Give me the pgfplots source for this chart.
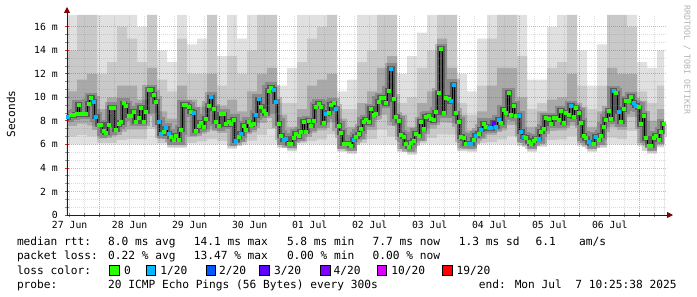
\documentclass[border=0pt]{standalone}
\usepackage{pgfplots}
\pgfplotsset{compat=1.18}
\usepackage{pgfplotstable}
\usepackage{fontspec}
\usetikzlibrary{arrows.meta}
\newfontfamily\rrd{DejaVu Sans Mono}
\newcommand\legfont{\rrd\fontsize{11.2}{13}\selectfont}
\newcommand\tickfont{\rrd\fontsize{9.8}{11}\selectfont}
\definecolor{lc0}{HTML}{26FF00}
\definecolor{lc1}{HTML}{00B8FF}
\definecolor{lc2}{HTML}{0059FF}
\definecolor{lc3}{HTML}{5E00FF}
\definecolor{lc4}{HTML}{7E00FF}
\definecolor{lc10}{HTML}{DD00FF}
\definecolor{lc19}{HTML}{FF0000}
\definecolor{sm1}{HTML}{E0E0E0}
\definecolor{sm2}{HTML}{C9C9C9}
\definecolor{sm3}{HTML}{A9A9A9}
\definecolor{mgrid}{RGB}{200,50,50}
\definecolor{ngrid}{RGB}{140,140,140}
\definecolor{arrowred}{RGB}{128,0,0}
\definecolor{axiscol}{RGB}{32,32,32}

\pgfplotstableread{
u l1 l2 l3 h3 h2 h1
0 6.00 6.66 7.56 10.5 14 17
10 6.00 6.78 7.76 11.5 17 17
20 6.00 6.68 7.60 12 17 17
30 6.00 6.10 6.51 9 12 17
40 6.00 6.11 6.68 10 13 17
50 6.00 6.36 7.08 11 16 17
60 6.00 6.48 7.28 11 15 17
70 6.00 6.48 7.28 9.8 13 16
80 6.00 7.32 8.62 12.5 17 17
90 6.00 6.10 6.46 8.8 11.5 14
100 5.69 5.79 5.95 8.2 10.5 13
110 5.69 5.79 5.95 11 15 17
120 6.00 6.10 6.64 9.8 12 14.5
130 6.00 6.26 6.92 9.2 12 15
140 6.00 6.47 7.26 12 17 17
150 6.00 6.29 6.96 9.3 11 13.5
160 5.63 5.73 5.89 9.8 13.5 17
170 5.94 6.04 6.20 8.8 12 15
180 6.00 6.33 7.03 10.5 14 17
190 6.00 6.81 7.80 12 17 17
200 6.00 7.31 8.60 12.5 17 17
210 5.69 5.79 5.95 8.5 9.5 11
220 5.40 5.50 5.66 7.5 9.5 12.5
230 6.00 6.10 6.26 9 13 17
240 6.00 6.30 6.98 11 15 17
250 6.00 6.43 7.19 11.5 16 17
260 6.00 6.85 7.87 12 17 17
270 5.35 5.45 5.61 8.2 9 10.5
280 5.18 5.28 5.44 7.5 9 11.5
290 6.00 6.10 6.40 9.5 13 17
300 6.00 6.44 7.21 10.5 14 17
310 6.00 7.25 8.51 12.5 17 17
320 6.00 6.68 7.60 13.5 17 17
330 5.35 5.45 5.61 8.5 9.5 12
340 5.12 5.22 5.38 7.5 10 13.5
350 6.00 6.10 6.30 9.5 12.5 15.5
360 6.00 6.53 7.35 10.5 14 17
370 6.00 6.85 7.87 15 17 17
380 6.00 6.83 7.83 12.5 17 17
390 5.40 5.50 5.66 8.5 9.5 12
400 5.35 5.45 5.61 7.2 8.5 10.5
410 6.00 6.10 6.46 8.8 11 15
420 6.00 6.19 6.80 11 15 17
430 6.00 6.43 7.19 12.5 17 17
440 6.00 6.71 7.64 12.5 17 17
450 5.86 5.96 6.12 10 13.5 17
460 5.35 5.45 5.61 7.5 9 11.5
470 5.80 5.90 6.06 8.8 9.5 11.5
480 6.00 6.39 7.12 9.8 12.5 16
490 6.00 6.43 7.19 10 13 17
500 6.00 6.68 7.60 12 17 17
510 5.83 5.93 6.09 9.2 11 14
520 5.35 5.45 5.61 7.5 9 11
530 5.69 5.79 5.95 8.8 11 14.5
540 6.00 6.58 7.44 12.5 17 17
550 6.00 6.46 7.24 12 17 17
560 6.00 7.14 8.32 12 16 17
570 5.83 5.93 6.09 9.7 10.5 13
580 5.20 5.30 5.46 8 9.5 12.5
590 5.74 5.84 6.00 9 11 14
597 5.74 5.84 6.00 9 11 14
}\smoke

\pgfplotstableread{
u v c
0.5 8.32 b
3.5 8.49 g
6.5 8.49 g
9.5 8.57 g
11.5 9.37 g
14 8.57 g
16.5 8.57 g
19 8.57 g
21.5 9.45 g
24 9.96 g
26.5 9.65 b
29 8.37 b
31.5 7.66 g
34 7.66 g
36.5 7.18 g
39 7.01 g
41.5 7.66 g
44 9.14 g
46.5 9.14 g
49 7.23 g
51.5 7.72 g
54 7.89 g
56.5 9.51 g
59 9.28 g
61.5 8.43 g
64 8.43 g
66.5 8.80 g
69 7.97 g
71.5 8.29 g
74 9.11 g
76.5 7.97 g
79 8.80 g
81.5 10.64 g
84 10.64 g
86.5 10.24 g
89 9.65 g
91.5 7.89 b
94 6.95 b
96.5 7.04 g
99 7.38 b
101.5 6.90 b
104 6.64 g
106.5 6.39 g
109 6.73 g
111.5 6.39 g
114 7.23 g
116.5 9.37 g
119 9.37 g
121.5 9.22 g
124 8.77 g
126.5 8.72 b
129 7.18 g
131.5 7.58 g
134 7.86 g
136.5 7.52 g
139 8.20 g
141.5 9.28 g
144 10.02 b
146.5 9.02 g
149 7.95 g
151.5 7.58 g
154 8.57 g
156.5 8.57 g
159 7.72 g
161.5 7.92 g
164 7.72 g
166.5 8.12 g
169 6.33 b
171.5 6.64 g
174 6.93 b
176.5 7.58 g
179 7.29 g
181.5 7.89 g
184 7.66 g
186.5 7.80 g
189 8.49 b
191.5 9.85 b
194 9.22 g
196.5 8.88 g
199 8.63 g
201.5 10.60 g
204 10.84 g
206.5 10.64 b
209 9.62 b
211.5 7.80 g
214 6.78 g
216.5 6.39 b
219 6.50 b
221.5 6.10 g
224 6.10 g
226.5 6.53 g
229 6.90 g
231.5 6.70 g
234 7.07 g
236.5 7.92 g
239 7.07 g
241.5 8.00 g
244 7.60 g
246.5 8.03 g
249 9.22 g
251.5 9.45 g
254 9.22 g
256.5 7.86 g
259 8.60 b
261.5 8.71 g
264 9.37 g
266.5 9.51 g
269 9.05 b
271.5 7.60 g
274 7.01 g
276.5 6.05 g
279 6.05 g
281.5 6.05 g
284 5.88 g
286.5 6.39 b
289 6.64 g
291.5 6.87 g
294 7.32 g
296.5 7.92 g
299 8.09 g
301.5 7.89 g
304 9.02 g
306.5 8.52 g
309 8.60 g
311.5 9.65 g
314 9.96 g
316.5 9.96 g
319 9.51 g
321.5 10.56 g
324 12.46 b
326.5 9.85 g
329 8.37 g
331.5 8.00 g
334 6.81 g
336.5 6.64 g
339 6.05 g
341.5 5.82 g
344 6.16 g
346.5 6.30 g
349 6.95 g
351.5 6.75 g
354 7.92 g
356.5 7.35 g
359 8.34 g
361.5 8.43 g
364 8.15 g
366.5 8.06 g
369 8.74 g
371.5 10.41 g
374 14.13 g
376.5 8.71 g
379 9.96 g
381.5 9.85 g
384 9.68 b
386.5 11.10 b
389 8.66 g
391.5 7.92 g
394 6.67 g
396.5 6.53 g
399 6.10 g
401.5 6.05 b
404 6.10 b
406.5 6.44 g
409 6.73 b
411.5 6.95 g
414 7.29 b
416.5 7.80 g
419 7.52 g
421.5 7.38 b
424 7.38 b
426.5 7.86 v
429 7.52 b
431.5 8.09 b
434 7.86 g
436.5 8.94 g
439 8.71 g
441.5 10.41 g
444 8.52 g
446.5 9.28 g
449 8.43 g
451.5 8.43 b
454 7.07 b
456.5 6.67 b
459 6.56 g
461.5 6.24 g
464 6.05 g
466.5 6.30 g
469 6.50 g
471.5 6.50 b
474 7.07 g
476.5 7.32 g
479 8.26 g
481.5 8.17 g
484 7.78 g
486.5 8.26 g
489 8.26 g
491.5 8.09 g
494 8.85 g
496.5 7.86 g
499 8.71 g
501.5 8.49 g
504 9.28 b
506.5 8.37 g
509 9.11 g
511.5 8.71 g
514 7.83 g
516.5 6.73 g
519 6.53 g
521.5 6.19 b
524 6.05 b
526.5 6.10 g
529 6.67 b
531.5 6.39 g
534 6.78 g
536.5 7.52 g
539 8.12 g
541.5 8.85 g
544 8.17 g
546.5 10.58 b
549 10.36 g
551.5 8.82 b
554 7.92 g
556.5 9.00 g
559 9.73 g
561.5 9.73 g
564 10.07 g
566.5 9.56 b
569 9.28 b
571.5 9.17 g
574 7.72 g
576.5 8.43 g
579 6.53 g
581.5 5.90 g
584 5.90 g
586.5 6.53 g
589 6.73 g
591.5 6.44 g
594 7.07 g
596.5 7.75 g
}\med

\begin{document}
\begin{tikzpicture}[x=1pt,y=1pt]
\useasboundingbox (0,0) rectangle (697,297);
\begin{axis}[
  at={(67pt,82pt)}, anchor=south west,
  scale only axis, width=600pt, height=200pt,
  xmin=0, xmax=600, ymin=0, ymax=17,
  axis on top,
  axis x line=bottom, axis y line=left,
  axis line style={draw=axiscol, line width=0.8pt},
  x axis line style={-{Triangle[length=6pt,width=6pt,color=arrowred]}, shorten >=-6pt},
  y axis line style={-{Triangle[length=6pt,width=6pt,color=arrowred]}, shorten >=-8pt},
  xtick={32.2,92.2,152.2,212.2,272.2,332.2,392.2,452.2,512.2,572.2},
  xticklabels={},
  minor xtick={2.2,17.2,47.2,62.2,77.2,107.2,122.2,137.2,167.2,182.2,197.2,227.2,242.2,257.2,287.2,302.2,317.2,347.2,362.2,377.2,407.2,422.2,437.2,467.2,482.2,497.2,527.2,542.2,557.2,587.2},
  extra x ticks={2.7,62.7,122.7,182.7,242.7,302.7,362.7,422.7,482.7,542.7},
  extra x tick labels={27 Jun,28 Jun,29 Jun,30 Jun,01 Jul,02 Jul,03 Jul,04 Jul,05 Jul,06 Jul},
  extra x tick style={grid=none, major tick length=0pt},
  ytick={0,2,4,6,8,10,12,14,16},
  yticklabels={0,2 m,4 m,6 m,8 m,10 m,12 m,14 m,16 m},
  minor y tick num=2,
  grid=both,
  major grid style={mgrid, opacity=0.4, dash pattern=on 1pt off 1pt, line width=0.7pt},
  minor grid style={ngrid, opacity=0.3, dash pattern=on 1pt off 1pt, line width=0.7pt},
  tick align=center, major tick length=4pt, minor tick length=4pt,
  major tick style={mgrid, line width=0.8pt},
  minor tick style={ngrid, line width=0.8pt},
  ticklabel style={font=\tickfont},
  xticklabel style={anchor=base, inner sep=0pt, yshift=-13.2pt},
  yticklabel style={anchor=east, inner sep=0pt, xshift=-7pt},
]
\addplot[const plot, fill=sm1, draw=none] table[x=u, y=h1] {\smoke} \closedcycle;
\addplot[const plot, fill=sm2, draw=none] table[x=u, y=h2] {\smoke} \closedcycle;
\addplot[const plot, fill=sm3, draw=none] table[x=u, y=h3] {\smoke} \closedcycle;
\addplot[const plot, fill=sm2, draw=none] table[x=u, y=l3] {\smoke} \closedcycle;
\addplot[const plot, fill=sm1, draw=none] table[x=u, y=l2] {\smoke} \closedcycle;
\addplot[const plot, fill=white, draw=none] table[x=u, y=l1] {\smoke} \closedcycle;
\addplot[const plot mark mid, draw=black, draw opacity=0.18, line width=10pt] table[x=u, y=v] {\med};
\addplot[const plot mark mid, draw=black, draw opacity=0.35, line width=5pt] table[x=u, y=v] {\med};
\addplot[const plot mark mid, draw=black, line width=0.8pt] table[x=u, y=v] {\med};
\addplot[scatter, only marks, mark size=1.5pt, point meta=explicit symbolic,
  scatter/classes={g={mark=square*,fill=lc0,draw=lc0}, b={mark=square*,fill=lc1,draw=lc1}, v={mark=square*,fill=lc3,draw=lc3}}]
  table[x=u, y=v, meta=c] {\med};
\end{axis}
\node[rotate=90, font=\rrd\fontsize{11.1}{13}\selectfont] at (11,183) {Seconds};
\node[rotate=-90, font=\rrd\fontsize{8.3}{10}\selectfont, text=black!30] at (687,237) {RRDTOOL / TOBI OETIKER};
\begin{scope}[every node/.style={anchor=base west, inner sep=0pt, font=\legfont}]
\node at (16.8,51) {median rtt:};
\node at (107.9,51) {8.0 ms avg};
\node at (193.6,51) {14.1 ms max};
\node at (286.8,51) {5.8 ms min};
\node at (372.5,51) {7.7 ms now};
\node at (458.7,51) {1.3 ms sd};
\node at (535.5,51) {6.1};
\node at (579,51) {am/s};
\node at (16.8,37) {packet loss:};
\node at (107.9,37) {0.22 \% avg};
\node at (193.6,37) {13.47 \% max};
\node at (286.8,37) {0.00 \% min};
\node at (372.5,37) {0.00 \% now};
\node at (16.8,22.5) {loss color:};
\node at (123.8,22.5) {0};
\node at (160.2,22.5) {1/20};
\node at (218.9,22.5) {2/20};
\node at (274,22.5) {3/20};
\node at (333.4,22.5) {4/20};
\node at (391.2,22.5) {10/20};
\node at (456.4,22.5) {19/20};
\node at (16.8,8.7) {probe:};
\node at (107.9,8.7) {20 ICMP Echo Pings (56 Bytes) every 300s};
\node at (478.6,8.7) {end: Mon Jul\ \ 7 10:25:38 2025};
\end{scope}
\begin{scope}[line width=0.8pt]
\filldraw[fill=lc0, draw=black] (109.6,22) rectangle ++(9.4,9.4);
\filldraw[fill=lc1, draw=black] (146,22) rectangle ++(9.4,9.4);
\filldraw[fill=lc2, draw=black] (206.4,22) rectangle ++(9.4,9.4);
\filldraw[fill=lc3, draw=black] (259.7,22) rectangle ++(9.4,9.4);
\filldraw[fill=lc4, draw=black] (320.5,22) rectangle ++(9.4,9.4);
\filldraw[fill=lc10, draw=black] (377.4,22) rectangle ++(9.4,9.4);
\filldraw[fill=lc19, draw=black] (442.6,22) rectangle ++(9.4,9.4);
\end{scope}
\end{tikzpicture}
\end{document}
